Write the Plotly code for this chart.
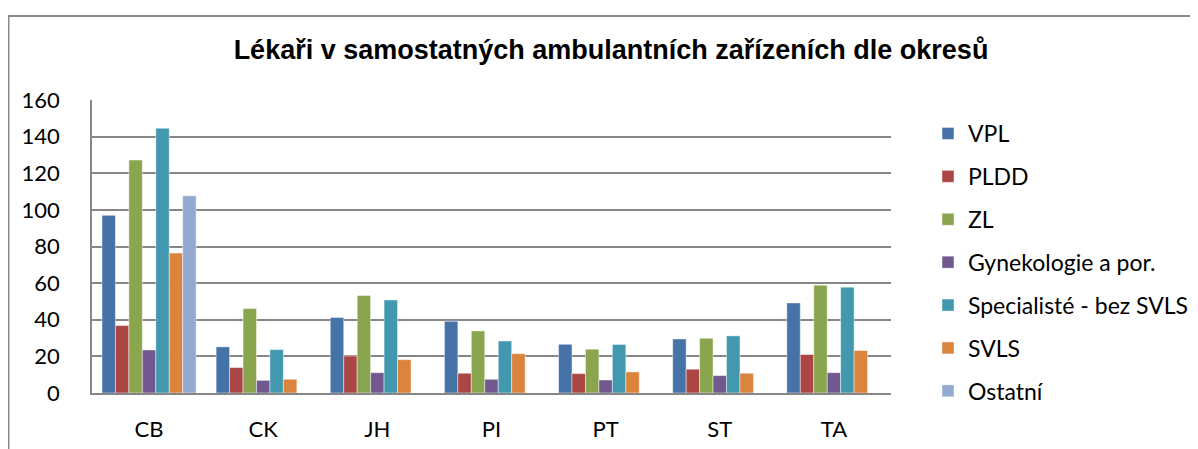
import plotly.graph_objects as go

categories = ["CB", "CK", "JH", "PI", "PT", "ST", "TA"]
series_names = ["VPL", "PLDD", "ZL", "Gynekologie a por.", "Specialisté - bez SVLS", "SVLS", "Ostatní"]
vpl = [97, 25.2, 41.2, 39.2, 26.6, 29.5, 49.2]
pldd = [36.8, 13.9, 20.2, 10.8, 10.6, 13.0, 21.0]
zl = [127.2, 46.1, 53.2, 33.9, 23.9, 29.9, 58.9]
gyn = [23.5, 6.9, 11.1, 7.5, 7.1, 9.5, 11.1]
spec = [144.6, 23.7, 50.8, 28.4, 26.5, 31.2, 57.8]
svls = [76.4, 7.5, 18.2, 21.5, 11.5, 10.8, 23.2]
ostatni = [107.7, None, None, None, None, None, None]
colors = ["#4572A7", "#AA4643", "#89A54E", "#71588F", "#4198AF", "#DB843D", "#93A9CF"]
y_ticks = [0, 20, 40, 60, 80, 100, 120, 140, 160]

values = [vpl, pldd, zl, gyn, spec, svls, ostatni]

# the page body has an 8px default margin, so work in shifted coordinates
OFF = 8
W, H = 1198 - OFF, 449 - OFF
L, R, T, B = 92 - OFF, 891 - OFF, 100 - OFF, 393 - OFF

fig = go.Figure()
for name, vals, col in zip(series_names, values, colors):
    fig.add_trace(go.Bar(
        x=categories, y=vals, name=name, legendgroup=name,
        marker=dict(color=col, line=dict(color="rgba(255,255,255,0.45)", width=1)),
    ))

gx = lambda px: (px - OFF - L) / (R - L)
gy = lambda py: (B - (py - OFF)) / (B - T)

FONT = "Lato, Open Sans, sans-serif"

fig.update_layout(
    width=W, height=H,
    margin=dict(l=L, r=W - R, t=T, b=H - B, autoexpand=False),
    paper_bgcolor="white", plot_bgcolor="white",
    barmode="group", bargap=0.175, bargroupgap=0,
    font=dict(family=FONT, size=22, color="#000000"),
    title=dict(text="<b>Lékaři v samostatných ambulantních zařízeních dle okresů</b>",
               x=(611 - OFF) / W, xanchor="center", y=1 - (50 - OFF) / H, yanchor="middle",
               font=dict(family="Liberation Sans, Arial, sans-serif", size=27, color="#000000")),
    legend=dict(x=gx(928), xanchor="left", y=gy(112), yanchor="top",
                tracegroupgap=10, traceorder="grouped", maxheight=430,
                font=dict(family=FONT, size=23, color="#000000"),
                bgcolor="rgba(0,0,0,0)"),
    xaxis=dict(showgrid=False, showline=True, linecolor="#868686", linewidth=2,
               ticks="", ticklabelstandoff=16, tickfont=dict(size=22)),
    yaxis=dict(range=[0, 160], tickvals=y_ticks, showgrid=True, gridcolor="#868686", gridwidth=1.5,
               showline=True, linecolor="#868686", linewidth=1.5, mirror=False,
               ticks="", ticklabelstandoff=26, tickfont=dict(size=22), zeroline=False),
    shapes=[dict(type="rect", xref="paper", yref="paper",
                 x0=gx(8.5), y0=gy(470), x1=gx(1260), y1=gy(16),
                 line=dict(color="#898989", width=2), fillcolor="rgba(0,0,0,0)", layer="below")],
)

fig.write_html("out.html")
